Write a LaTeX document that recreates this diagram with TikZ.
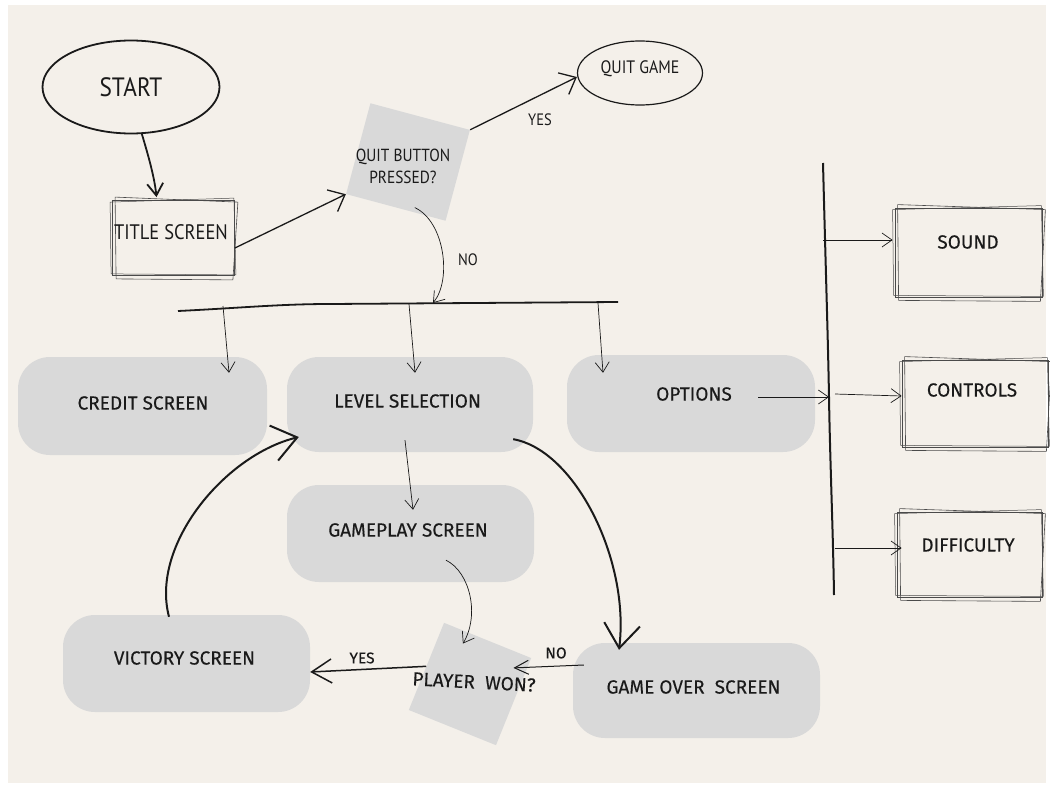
\documentclass[tikz,border=0pt]{standalone}
\usepackage{fontspec}
\setmainfont{Fira Sans}[FakeBold=0.2]
\newfontfamily\handfont[FakeStretch=0.88]{PT Sans}
\usetikzlibrary{arrows.meta,calc,shapes.geometric}
\definecolor{bgc}{HTML}{F4F0EA}
\definecolor{blobc}{HTML}{D9D9D9}
\definecolor{ink}{HTML}{1A1A1A}
\definecolor{pen}{HTML}{4A4A4A}
\newcommand\skextra[1]{%
  \draw[draw=pen, line width=0.6pt] ($(#1.north west)+(3,-3)$) -- ($(#1.north east)+(3,2)$) -- ($(#1.south east)+(-2,4)$) -- ($(#1.south west)+(4,3)$) -- cycle;
  \draw[draw=pen, line width=0.5pt] ($(#1.north west)+(-2,2)$) -- ($(#1.north east)+(-1,-2)$) -- ($(#1.south east)+(1,-1)$) -- ($(#1.south west)+(-1,-2)$) -- cycle;}
\begin{document}
\begin{tikzpicture}[x=1pt,y=-1pt,
  blob/.style={fill=blobc, rounded corners=32pt, inner sep=0pt},
  btxt/.style={text=ink, font=\fontsize{19}{22}\selectfont, inner sep=0pt},
  skbox/.style={draw=pen, line width=0.8pt, inner sep=0pt},
  diam/.style={fill=blobc, inner sep=0pt},
  lbl/.style={text=ink, inner sep=0pt, font=\fontsize{15.5}{17}\selectfont},
  hlbl/.style={text=ink, inner sep=0pt, font=\handfont\fontsize{16.5}{18}\selectfont},
  thin/.style={draw=ink, line width=0.7pt, -{Straight Barb[length=10pt,width=14pt]}},
  medarr/.style={draw=ink, line width=1.3pt, -{Straight Barb[length=14pt,width=24pt]}},
  heavy/.style={draw=ink, line width=2pt, -{Straight Barb[length=24pt,width=36pt]}},
]
\fill[white] (0,0) rectangle (1050,792);
\fill[bgc] (8,5) rectangle (1046,783);
\useasboundingbox (0,0) rectangle (1050,792);

% ---- blobs
\node[blob, minimum width=249pt, minimum height=98pt] (credit) at (142.5,406) {};
\node[blob, minimum width=246pt, minimum height=95pt] (level) at (410,404.5) {};
\node[blob, minimum width=248pt, minimum height=97pt] (options) at (691,403.5) {};
\node[blob, minimum width=247pt, minimum height=97pt] (gameplay) at (410.5,533.5) {};
\node[blob, minimum width=247pt, minimum height=97pt] (victory) at (186.5,663.5) {};
\node[blob, minimum width=247pt, minimum height=95pt] (gameover) at (696.5,690.5) {};
\node[diam, rotate=-15, minimum width=103pt, minimum height=94pt] (qb) at (408,162) {};
\node[diam, rotate=-22, minimum width=94pt, minimum height=94pt] (player) at (470,684) {};

% ---- start / title / quit
\node[draw=ink, line width=1.8pt, ellipse, minimum width=177pt, minimum height=93pt, inner sep=0pt, text=ink, font=\handfont\fontsize{26.5}{28}\selectfont] (start) at (131,87) {START};
\node[skbox, minimum width=122pt, minimum height=75pt] (title) at (173.5,238) {};
\skextra{title}
\node[text=ink, inner sep=0pt, font=\handfont\fontsize{21}{23}\selectfont] (titlet) at (171,232) {TITLE SCREEN};
\node[draw=ink, line width=1.2pt, ellipse, minimum width=125pt, minimum height=64pt, inner sep=0pt] (qg) at (640,73) {};
\node[text=ink, inner sep=0pt, font=\handfont\fontsize{18}{20}\selectfont] (qgt) at (640,69) {QUIT GAME};
\node[text=ink, inner sep=0pt, align=center, font=\handfont\fontsize{17.5}{22}\selectfont] (qbt) at (403,166) {QUIT BUTTON\\PRESSED?};

% ---- option boxes
\node[skbox, minimum width=147pt, minimum height=89pt] (sound) at (968.5,252.5) {};
\skextra{sound}
\node[skbox, minimum width=146pt, minimum height=87pt] (controls) at (975,403.5) {};
\skextra{controls}
\node[skbox, minimum width=145pt, minimum height=85pt] (difficulty) at (969.5,554.5) {};
\skextra{difficulty}
\node[btxt] (soundt) at (968,242) {SOUND};
\node[btxt] (controlst) at (972,390) {CONTROLS};
\node[btxt] (difficultyt) at (968,545) {DIFFICULTY};

% ---- bars
\coordinate (barL) at (178,311);
\coordinate (barR) at (618,302);
\coordinate (b1) at (223,306);
\coordinate (b2) at (409,304);
\coordinate (b3) at (598,303);
\coordinate (noend) at (433,303);
\draw[draw=ink, line width=1.8pt] (barL) .. controls (240,308) and (280,304) .. (330,304) -- (barR);
\coordinate (vbT) at (823,163);
\coordinate (vbM) at (829,397);
\coordinate (vbB) at (834,595);
\coordinate (vs) at (823,240);
\coordinate (vc) at (835,394);
\coordinate (vd) at (835,548);
\draw[draw=ink, line width=2pt] (vbT) .. controls (826,280) and (828,340) .. (vbM) .. controls (830,460) and (833,530) .. (vbB);

% ---- connectors
\draw[draw=ink, line width=1.8pt, -{Straight Barb[length=12pt,width=16pt]}] (start.-77) .. controls +(6,20) and +(-2,-20) .. ([xshift=-17pt,yshift=3pt]title.north);
\draw[medarr] ([yshift=-10pt]title.east) -- (qb.south west);
\draw[medarr] (qb.north east) -- ([yshift=-4pt]qg.west);
\node[hlbl] (yes1) at (540,120) {YES};
\draw[thin] ([xshift=19pt]qb.south) .. controls +(30,14) and +(19,-23) .. (noend);
\node[hlbl] (no1) at (468,260) {NO};

\draw[thin] (b1) -- ([xshift=86.5pt,yshift=-16pt]credit.north);
\draw[thin] (b2) -- ([xshift=5pt,yshift=-16pt]level.north);
\draw[thin] (b3) -- ([xshift=-88pt,yshift=-18pt]options.north);
\draw[thin] ([xshift=-57pt,yshift=6.5pt]options.east) -- (vbM);
\draw[thin] (vs) -- ([xshift=-2pt,yshift=12.5pt]sound.west);
\draw[thin] (vc) -- ([yshift=7.5pt]controls.west);
\draw[thin] (vd) -- ([xshift=5pt,yshift=6.5pt]difficulty.west);

\draw[thin] ([xshift=-5pt,yshift=12pt]level.south) -- ([xshift=2.5pt,yshift=-25pt]gameplay.north);
\draw[heavy] ([xshift=-20pt,yshift=13pt]level.south east) .. controls (575,450) and (630,560) .. ([xshift=-77.5pt,yshift=-7pt]gameover.north);
\draw[thin] ([xshift=35.5pt,yshift=22pt]gameplay.south) .. controls (470,572) and (480,615) .. ([xshift=19pt,yshift=-21pt]player.north west);
\draw[draw=ink, line width=1pt, -{Straight Barb[length=14pt,width=14pt]}] ([xshift=11pt,yshift=25.5pt]gameover.west) -- ([xshift=-18pt,yshift=-10pt]player.north east);
\node[lbl] (no2) at (556,653) {NO};
\draw[draw=ink, line width=1.5pt, -{Straight Barb[length=20pt,width=24pt]}] (player.west) -- ([yshift=-8.5pt]victory.east);
\node[lbl] (yes2) at (362,658) {YES};
\draw[heavy] ([xshift=-17.5pt,yshift=-2pt]victory.north) .. controls (150,545) and (225,455) .. ([xshift=12pt,yshift=-32.5pt]level.west);

% ---- blob texts
\node[btxt] (creditt) at (143,403) {CREDIT SCREEN};
\node[btxt] (levelt) at (407.5,401) {LEVEL SELECTION};
\node[btxt] (optionst) at (694,394) {OPTIONS};
\node[btxt] (gameplayt) at (408,530) {GAMEPLAY SCREEN};
\node[btxt] (victoryt) at (184.5,658) {VICTORY SCREEN};
\node[btxt] (gameovert) at (693.5,687) {GAME OVER\ \ SCREEN};
\node[btxt, rotate=-3] (playert) at (474,682) {PLAYER\ \ WON?};
\end{tikzpicture}
\end{document}
